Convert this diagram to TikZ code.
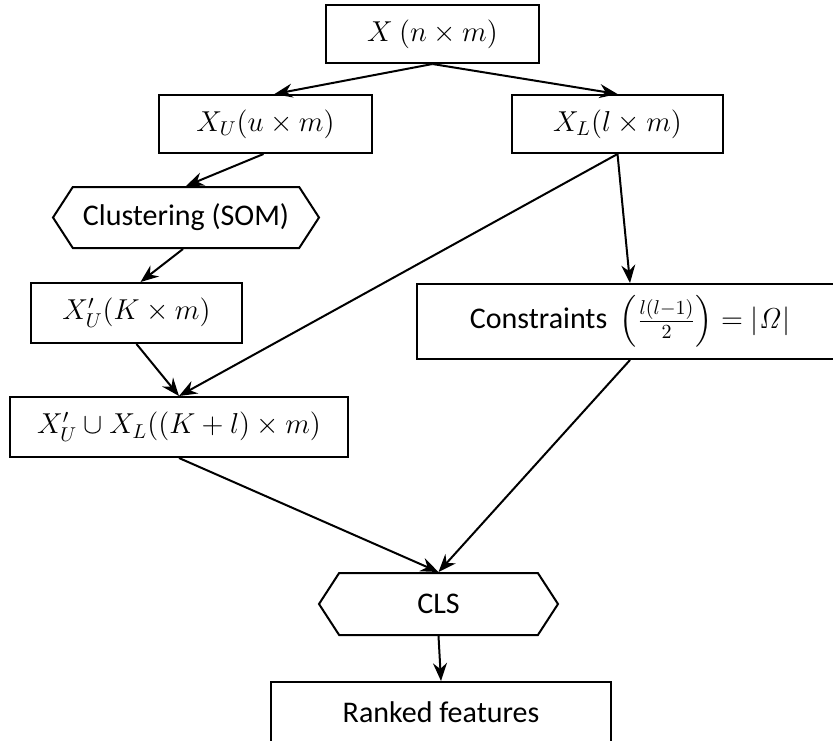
\documentclass[tikz,border=0pt]{standalone}
\usepackage{amsmath}
\usepackage[no-math]{fontspec}
\setmainfont{Carlito}
\usetikzlibrary{arrows.meta,shapes.symbols,calc}
\begin{document}
\begin{tikzpicture}[x=0.5pt,y=-0.5pt,
  every node/.style={font=\fontsize{14}{16}\selectfont, line width=1pt, inner sep=0pt},
  txt/.style={font=\fontsize{15}{18}\selectfont},
  box/.style={draw, rectangle},
  hexbox/.style={draw, signal, signal to=west and east, signal pointer angle=114},
  arr/.style={line width=1pt, -{Stealth[length=9pt,width=7pt,inset=3pt]}}]
\clip (0,0) rectangle (833,740);
\useasboundingbox (0,0) rectangle (833,740);
\node[box, minimum width=106.5pt, minimum height=29pt] (X) at (432.5,34) {$X\ (n\times m)$};
\node[box, minimum width=106.5pt, minimum height=29pt] (XU) at (265.5,124) {$X_U(u\times m)$};
\node[box, minimum width=105.5pt, minimum height=29pt] (XL) at (617.5,124) {$X_L(l\times m)$};
\node[hexbox, txt, minimum width=133pt, minimum height=30.5pt] (CL) at (186,217.5) {Clustering (SOM)};
\node[box, minimum width=105.5pt, minimum height=30pt] (XUp) at (136.5,313) {$X'_U(K\times m)$};
\node[box, minimum width=213pt, minimum height=37.5pt] (CO) at (630,321.5) {{\fontsize{15}{18}\selectfont Constraints}\ \ $\left(\tfrac{l(l-1)}{2}\right)=|\mathit{\Omega}|$};
\node[box, minimum width=169pt, minimum height=30pt] (UN) at (179,427) {$X'_U\cup X_L((K+l)\times m)$};
\node[hexbox, txt, minimum width=119.5pt, minimum height=31pt] (CLS) at (438.5,604) {CLS};
\node[box, txt, minimum width=170pt, minimum height=30pt] (RF) at (441,712) {Ranked features};
\draw[arr] (X.south) -- ($(XU.north)+(9,0)$);
\draw[arr] (X.south) -- (XL.north);
\draw[arr] ($(XU.south)+(-2,0)$) -- (CL.north);
\draw[arr] ($(CL.south)+(-3,0)$) -- ($(XUp.north)+(4,0)$);
\draw[arr] (XUp.south) -- (UN.north);
\draw[arr] (XL.south) -- (UN.north);
\draw[arr] (XL.south) -- (CO.north);
\draw[arr] (UN.south) -- (CLS.north);
\draw[arr] (CO.south) -- (CLS.north);
\draw[arr] (CLS.south) -- (RF.north);
\end{tikzpicture}
\end{document}
